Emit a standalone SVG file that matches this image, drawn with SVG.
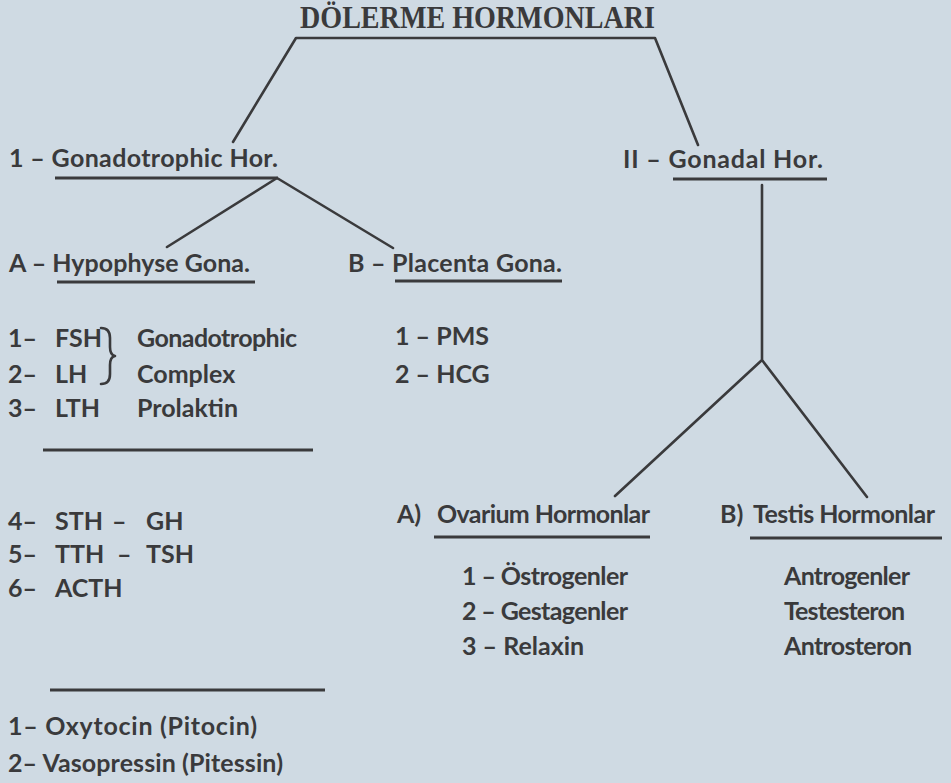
<svg xmlns="http://www.w3.org/2000/svg" width="951" height="783" viewBox="0 0 951 783">
<style>
.bg{fill:#cfdae3}
text{font-family:Lato,"Open Sans","Liberation Sans",sans-serif;font-weight:700;font-size:25px;fill:#3a3a3c}
.title{font-family:"Liberation Serif","Times New Roman",serif;font-size:31px;font-weight:700}
.ln{stroke:#3a3a3c;stroke-width:2.6;fill:none;stroke-linecap:round;stroke-linejoin:round}
.ul{stroke:#3a3a3c;stroke-width:3.2;fill:none}
</style>
<rect class="bg" x="0" y="0" width="951" height="783"/>
<g id="connectors">
<path class="ln" d="M233,142 L296,38 L655,38 L698,145"/>
<path class="ln" d="M167,247 L277,178 L393,248"/>
<path class="ln" d="M762,185 L762,360 M615,496 L762,360 L867,497"/>
<path class="ln" d="M101,328 Q110,328 110,338 L110,347 Q110,355 115,356 Q110,357 110,365 L110,374 Q110,384 101,384" stroke-width="2.4"/>
</g>
<g id="title"><text class="title" x="300" y="28" textLength="355" lengthAdjust="spacingAndGlyphs">DÖLERME HORMONLARI</text></g>
<g id="gonadotrophic">
<text x="9" y="167" textLength="269">1 – Gonadotrophic  Hor.</text>
<line class="ul" x1="55" y1="178" x2="278" y2="178"/>
</g>
<g id="gonadal">
<text x="623" y="168" textLength="200">II – Gonadal  Hor.</text>
<line class="ul" x1="673" y1="179" x2="827" y2="179"/>
</g>
<g id="hypophyse">
<text x="9" y="272" textLength="241">A – Hypophyse Gona.</text>
<line class="ul" x1="57" y1="282" x2="255" y2="282"/>
</g>
<g id="placenta">
<text x="348" y="272" textLength="214">B – Placenta Gona.</text>
<line class="ul" x1="395" y1="281" x2="562" y2="281"/>
</g>
<g id="hypophyse-list">
<text x="8" y="347">1–</text><text x="55" y="347">FSH</text>
<text x="8" y="383">2–</text><text x="55" y="383">LH</text>
<text x="8" y="417">3–</text><text x="55" y="417">LTH</text>
<text x="137" y="347" textLength="160">Gonadotrophic</text>
<text x="137" y="383">Complex</text>
<text x="137" y="417">Prolaktin</text>
<line class="ul" x1="43" y1="450" x2="313" y2="450"/>
</g>
<g id="placenta-list">
<text x="395" y="345">1 – PMS</text>
<text x="395" y="383">2 – HCG</text>
</g>
<g id="other-list">
<text x="8" y="530">4–</text><text x="55" y="530">STH</text><text x="112" y="530">–</text><text x="146" y="530">GH</text>
<text x="8" y="563">5–</text><text x="55" y="563">TTH</text><text x="117" y="563">–</text><text x="146" y="563">TSH</text>
<text x="8" y="597">6–</text><text x="55" y="597">ACTH</text>
<line class="ul" x1="50" y1="690" x2="325" y2="690"/>
</g>
<g id="posterior-list">
<text x="8" y="735" textLength="249">1– Oxytocin  (Pitocin)</text>
<text x="8" y="772" textLength="275">2– Vasopressin  (Pitessin)</text>
</g>
<g id="ovarium">
<text x="397" y="523">A)</text>
<text x="437" y="523" textLength="213">Ovarium Hormonlar</text>
<line class="ul" x1="434" y1="537" x2="650" y2="537"/>
<text x="462" y="585" textLength="166">1 – Östrogenler</text>
<text x="462" y="620" textLength="166">2 – Gestagenler</text>
<text x="462" y="655">3 – Relaxin</text>
</g>
<g id="testis">
<text x="720" y="523">B)</text>
<text x="753" y="523" textLength="182">Testis Hormonlar</text>
<line class="ul" x1="750" y1="538" x2="942" y2="538"/>
<text x="784" y="585" textLength="126">Antrogenler</text>
<text x="784" y="620" textLength="121">Testesteron</text>
<text x="784" y="655" textLength="128">Antrosteron</text>
</g>
</svg>
